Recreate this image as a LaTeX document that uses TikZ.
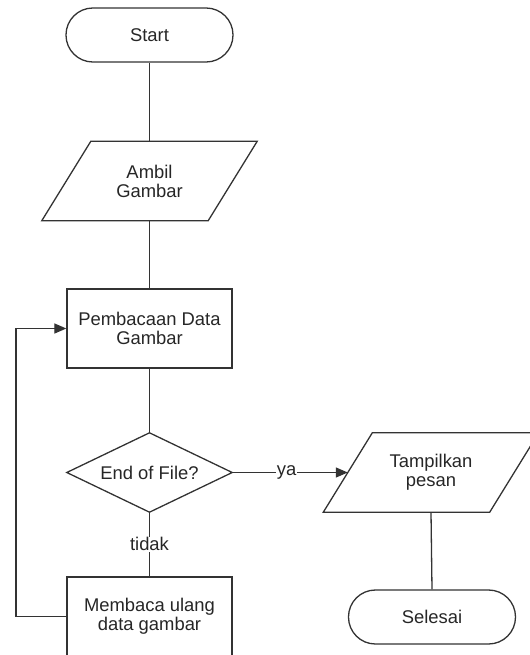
\documentclass[tikz,border=0pt]{standalone}
\usepackage{fontspec}
\setmainfont{Liberation Sans}
\usetikzlibrary{arrows.meta,calc}
\begin{document}
\begin{tikzpicture}[x=1bp,y=-1bp,
  every node/.style={font=\fontsize{18.4bp}{19bp}\selectfont, text=black!85, align=center},
  ln/.style={draw=black!80, line width=1.3bp},
  terminal/.style={ln, rectangle, rounded corners=26.9bp, minimum width=167bp, minimum height=54bp, inner sep=0},
  procbox/.style={ln, rectangle, minimum width=165bp, minimum height=79bp, inner sep=0},
  iobox/.style={rectangle, minimum width=166bp, minimum height=79bp, inner sep=0},
  decbox/.style={rectangle, minimum width=165bp, minimum height=79bp, inner sep=0},
  conn/.style={ln},
  arr/.style={ln, -{Triangle[length=12bp,width=10bp]}},
  lbl/.style={fill=white, inner sep=1bp}
]
\useasboundingbox (0,0) rectangle (530,655);
\clip (0,0) rectangle (530,655);

\node[terminal] (start) at (149.5,35) {Start};
\node[iobox] (ambil) at (149.5,181) {Ambil\\Gambar};
\node[procbox] (baca) at (149.5,328.5) {Pembacaan Data\\Gambar};
\node[decbox] (eof) at (149.5,472.5) {End of File?};
\node[procbox] (ulang) at (149.5,616.5) {Membaca ulang\\data gambar};
\node[iobox] (tampil) at (431,472.5) {Tampilkan\\pesan};
\node[terminal] (selesai) at (432,617) {Selesai};
\coordinate (loopb) at (16,616.5);
\coordinate (loopt) at (16,328.5);

% parallelograms
\foreach \n in {ambil,tampil}{
  \draw[ln, line join=miter] ([xshift=24.5bp]\n.north west) -- ([xshift=24.5bp]\n.north east)
    -- ([xshift=-24.5bp]\n.south east) -- ([xshift=-24.5bp]\n.south west) -- cycle;
}
% diamond
\draw[ln, line join=miter] (eof.north) -- (eof.east) -- (eof.south) -- (eof.west) -- cycle;

% connectors
\draw[conn] (start.south) -- (ambil.north);
\draw[conn] (ambil.south) -- (baca.north);
\draw[conn] (baca.south) -- (eof.north);
\draw[conn] (eof.south) -- node[lbl] {tidak} (ulang.north);
\draw[arr] (eof.east) -- node[lbl, pos=0.47] {ya} (tampil.west);
\draw[conn] (tampil.south) -- (selesai.north);
\draw[arr] (ulang.west) -- (loopb) -- (loopt) -- (baca.west);
\end{tikzpicture}
\end{document}
